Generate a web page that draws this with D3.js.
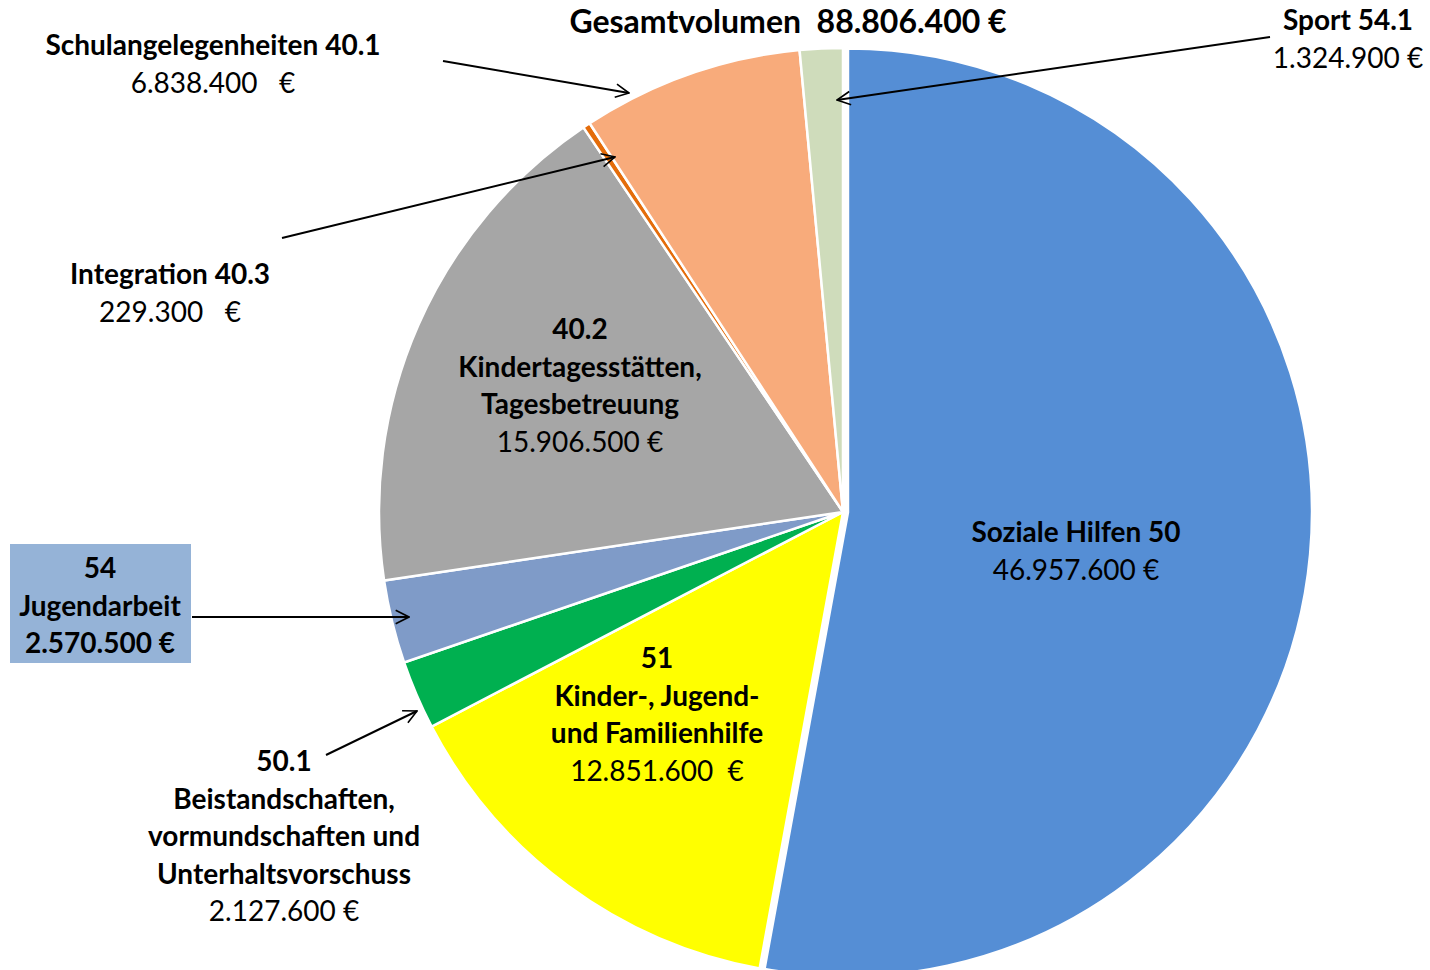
<!DOCTYPE html>
<meta charset="utf-8">
<script src="https://d3js.org/d3.v7.min.js"></script>
<style>
  body { margin: 0; background: #fff; }
  text { font-family: Lato, "Open Sans", sans-serif; fill: #000; white-space: pre; }
</style>
<div id="my_dataviz"></div>

<script>
// slices, clockwise from 12 o'clock
var codes = ["50", "51", "50.1", "54", "40.2", "40.3", "40.1", "54.1"];
var names = ["Soziale Hilfen", "Kinder-, Jugend- und Familienhilfe", "Beistandschaften, Vormundschaften und Unterhaltsvorschuss",
             "Jugendarbeit", "Kindertagesstätten, Tagesbetreuung", "Integration", "Schulangelegenheiten", "Sport"];
var values = [46957600, 12851600, 2127600, 2570500, 15906500, 229300, 6838400, 1324900];
var colors = ["#558ed5", "#ffff00", "#00b050", "#7f9bc8", "#a6a6a6", "#e46c0a", "#f8ab7b", "#cfdcbb"];

// text lines of each label (bold), the value line is added below
var titleLines = [
  ["Soziale Hilfen 50"],
  ["51", "Kinder-, Jugend-", "und Familienhilfe"],
  ["50.1", "Beistandschaften,", "vormundschaften und", "Unterhaltsvorschuss"],
  ["54", "Jugendarbeit"],
  ["40.2", "Kindertagesstätten,", "Tagesbetreuung"],
  ["Integration 40.3"],
  ["Schulangelegenheiten 40.1"],
  ["Sport 54.1"]
];
var euroGap = [" ", "  ", " ", " ", " ", "   ", "   ", " "];
var totalTitle = "Gesamtvolumen";

var width = 1430, height = 970,
    cx = 843, cy = 512,
    radius = 464;

var de = d3.formatLocale({decimal: ",", thousands: ".", grouping: [3], currency: ["", "€"]});
var fmt = de.format(",d");

var svg = d3.select("#my_dataviz")
  .append("svg")
    .attr("width", width)
    .attr("height", height);

// open arrow head
svg.append("defs").append("marker")
    .attr("id", "arrow")
    .attr("viewBox", "0 0 12 12")
    .attr("refX", 11).attr("refY", 6)
    .attr("markerWidth", 8).attr("markerHeight", 8)
    .attr("markerUnits", "strokeWidth")
    .attr("orient", "auto")
  .append("path")
    .attr("d", "M1,1 L11,6 L1,11")
    .attr("fill", "none")
    .attr("stroke", "#000")
    .attr("stroke-width", 1.2);

var data = values.map(function(v, i) { return {code: codes[i], name: names[i], value: v, color: colors[i], i: i}; });

var pie = d3.pie().sort(null).value(function(d) { return d.value; });
var arcs = pie(data);
var arc = d3.arc().innerRadius(0).outerRadius(radius);

var g = svg.append("g").attr("transform", "translate(" + cx + "," + cy + ")");

// Soziale Hilfen slice is pulled out a little
g.selectAll("path")
  .data(arcs)
  .enter()
  .append("path")
    .attr("d", arc)
    .attr("fill", function(d) { return d.data.color; })
    .attr("stroke", "#fff")
    .attr("stroke-width", 2.5)
    .attr("transform", function(d) {
      if (d.index !== 0) return null;
      var a = (d.startAngle + d.endAngle) / 2, off = 5;
      return "translate(" + (off * Math.sin(a)) + "," + (-off * Math.cos(a)) + ")";
    });

var total = d3.sum(values);

// title
svg.append("text")
    .attr("x", 788).attr("y", 20)
    .attr("text-anchor", "middle")
    .attr("dominant-baseline", "central")
    .style("font-size", "32px")
    .style("font-weight", "bold")
    .text(totalTitle + "  " + fmt(total) + " €");

// label layout: centre x, centre y of first line, arrow from -> to
var layout = [
  {x: 1076, y: 531},
  {x: 657, y: 657},
  {x: 284, y: 760, arrow: [[326, 755], [417, 711]]},
  {x: 100, y: 567, box: [10, 544, 181, 119], arrow: [[192, 617], [409, 617]]},
  {x: 580, y: 328},
  {x: 170, y: 273, arrow: [[282, 238], [615, 157]]},
  {x: 213, y: 44, arrow: [[443, 61], [629, 93]]},
  {x: 1348, y: 19, arrow: [[1270, 37], [837, 100]]}
];
var lineH = 37.5;

layout.forEach(function(l, i) {
  if (l.box) {
    svg.append("rect")
      .attr("x", l.box[0]).attr("y", l.box[1])
      .attr("width", l.box[2]).attr("height", l.box[3])
      .attr("fill", "#95b3d7");
  }
  if (l.arrow) {
    svg.append("line")
      .attr("x1", l.arrow[0][0]).attr("y1", l.arrow[0][1])
      .attr("x2", l.arrow[1][0]).attr("y2", l.arrow[1][1])
      .attr("stroke", "#000")
      .attr("stroke-width", 2)
      .attr("marker-end", "url(#arrow)");
  }
  var lines = titleLines[i].map(function(t) { return {t: t, bold: true}; });
  lines.push({t: fmt(values[i]) + euroGap[i] + "€", bold: !!l.box});
  var t = svg.append("text")
    .attr("text-anchor", "middle")
    .style("font-size", "28px");
  lines.forEach(function(ln, k) {
    t.append("tspan")
      .attr("x", l.x)
      .attr("y", l.y + k * lineH)
      .attr("dominant-baseline", "central")
      .style("font-weight", ln.bold ? "bold" : "normal")
      .text(ln.t);
  });
});
</script>
